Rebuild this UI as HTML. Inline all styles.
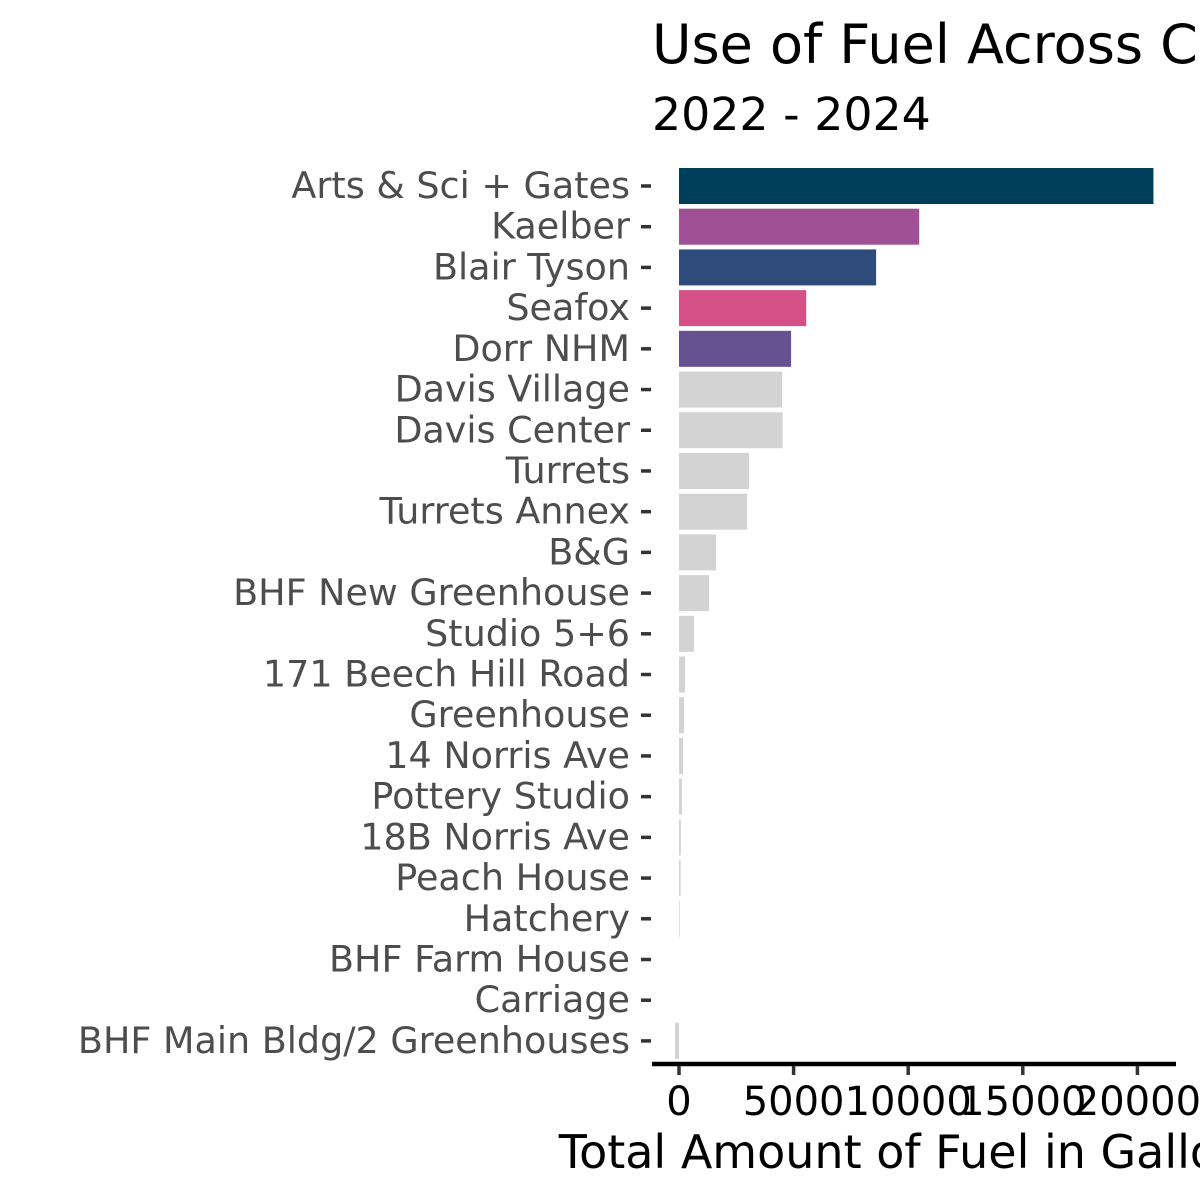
<!DOCTYPE html>
<html><head><meta charset="utf-8"><style>
html,body{margin:0;padding:0;background:#fff;width:1200px;height:1200px;overflow:hidden}
svg{font-family:"DejaVu Sans","Liberation Sans",sans-serif}
</style></head><body>
<svg id="chart" width="1200" height="1200">
<text x="652" y="63" font-size="54" fill="#000">Use of Fuel Across Campus</text>
<text x="652" y="130" font-size="45.8" fill="#000">2022 - 2024</text>
<g id="bars"></g><g id="ylab"></g><g id="xaxis"></g>
<text x="915" y="1168" font-size="46" fill="#000" text-anchor="middle">Total Amount of Fuel in Gallons</text>
</svg>
<script>
const categories=["Arts & Sci + Gates","Kaelber","Blair Tyson","Seafox","Dorr NHM","Davis Village","Davis Center","Turrets","Turrets Annex","B&G","BHF New Greenhouse","Studio 5+6","171 Beech Hill Road","Greenhouse","14 Norris Ave","Pottery Studio","18B Norris Ave","Peach House","Hatchery","BHF Farm House","Carriage","BHF Main Bldg/2 Greenhouses"];
const values=[20700,10480,8600,5550,4890,4500,4520,3060,2970,1620,1310,650,260,220,180,130,80,70,30,0,0,-170];
const colors=["#003f5c","#a05195","#2f4b7c","#d45087","#665191"];
const xTicks=[0,5000,10000,15000,20000];
const NS="http://www.w3.org/2000/svg";
const x=v=>679+v*0.02292;
const y=i=>186+i*40.71;
const bars=document.getElementById('bars'),yl=document.getElementById('ylab'),xa=document.getElementById('xaxis');
categories.forEach((c,i)=>{
  const v=values[i];
  const r=document.createElementNS(NS,'rect');
  r.setAttribute('x',Math.min(x(0),x(v)));r.setAttribute('width',Math.abs(x(v)-x(0)));
  r.setAttribute('y',y(i)-18);r.setAttribute('height',36);
  r.setAttribute('fill',i<colors.length?colors[i]:'#d3d3d3');
  
  
  bars.appendChild(r);
  const t=document.createElementNS(NS,'text');
  t.setAttribute('x',630);t.setAttribute('y',y(i)+12);t.setAttribute('text-anchor','end');
  t.setAttribute('font-size','36.5');t.setAttribute('fill','#4d4d4d');t.textContent=c;
  
  
  yl.appendChild(t);
  const tk=document.createElementNS(NS,'line');
  tk.setAttribute('x1',641);tk.setAttribute('x2',651);tk.setAttribute('y1',y(i));tk.setAttribute('y2',y(i));
  tk.setAttribute('stroke','#333');tk.setAttribute('stroke-width',3.5);
  
  
  yl.appendChild(tk);
});
const ax=document.createElementNS(NS,'line');
ax.setAttribute('x1',652);ax.setAttribute('x2',1176);ax.setAttribute('y1',1064);ax.setAttribute('y2',1064);
ax.setAttribute('stroke','#000');ax.setAttribute('stroke-width',4.5);


xa.appendChild(ax);
xTicks.forEach(v=>{
  const tk=document.createElementNS(NS,'line');
  tk.setAttribute('x1',x(v));tk.setAttribute('x2',x(v));tk.setAttribute('y1',1066);tk.setAttribute('y2',1075);
  tk.setAttribute('stroke','#333');tk.setAttribute('stroke-width',3.5);
  
  
  xa.appendChild(tk);
  const t=document.createElementNS(NS,'text');
  t.setAttribute('x',x(v));t.setAttribute('y',1115);t.setAttribute('text-anchor','middle');
  t.setAttribute('font-size','40');t.setAttribute('fill','#000');t.textContent=v;
  
  
  xa.appendChild(t);
});
</script>
</body></html>
